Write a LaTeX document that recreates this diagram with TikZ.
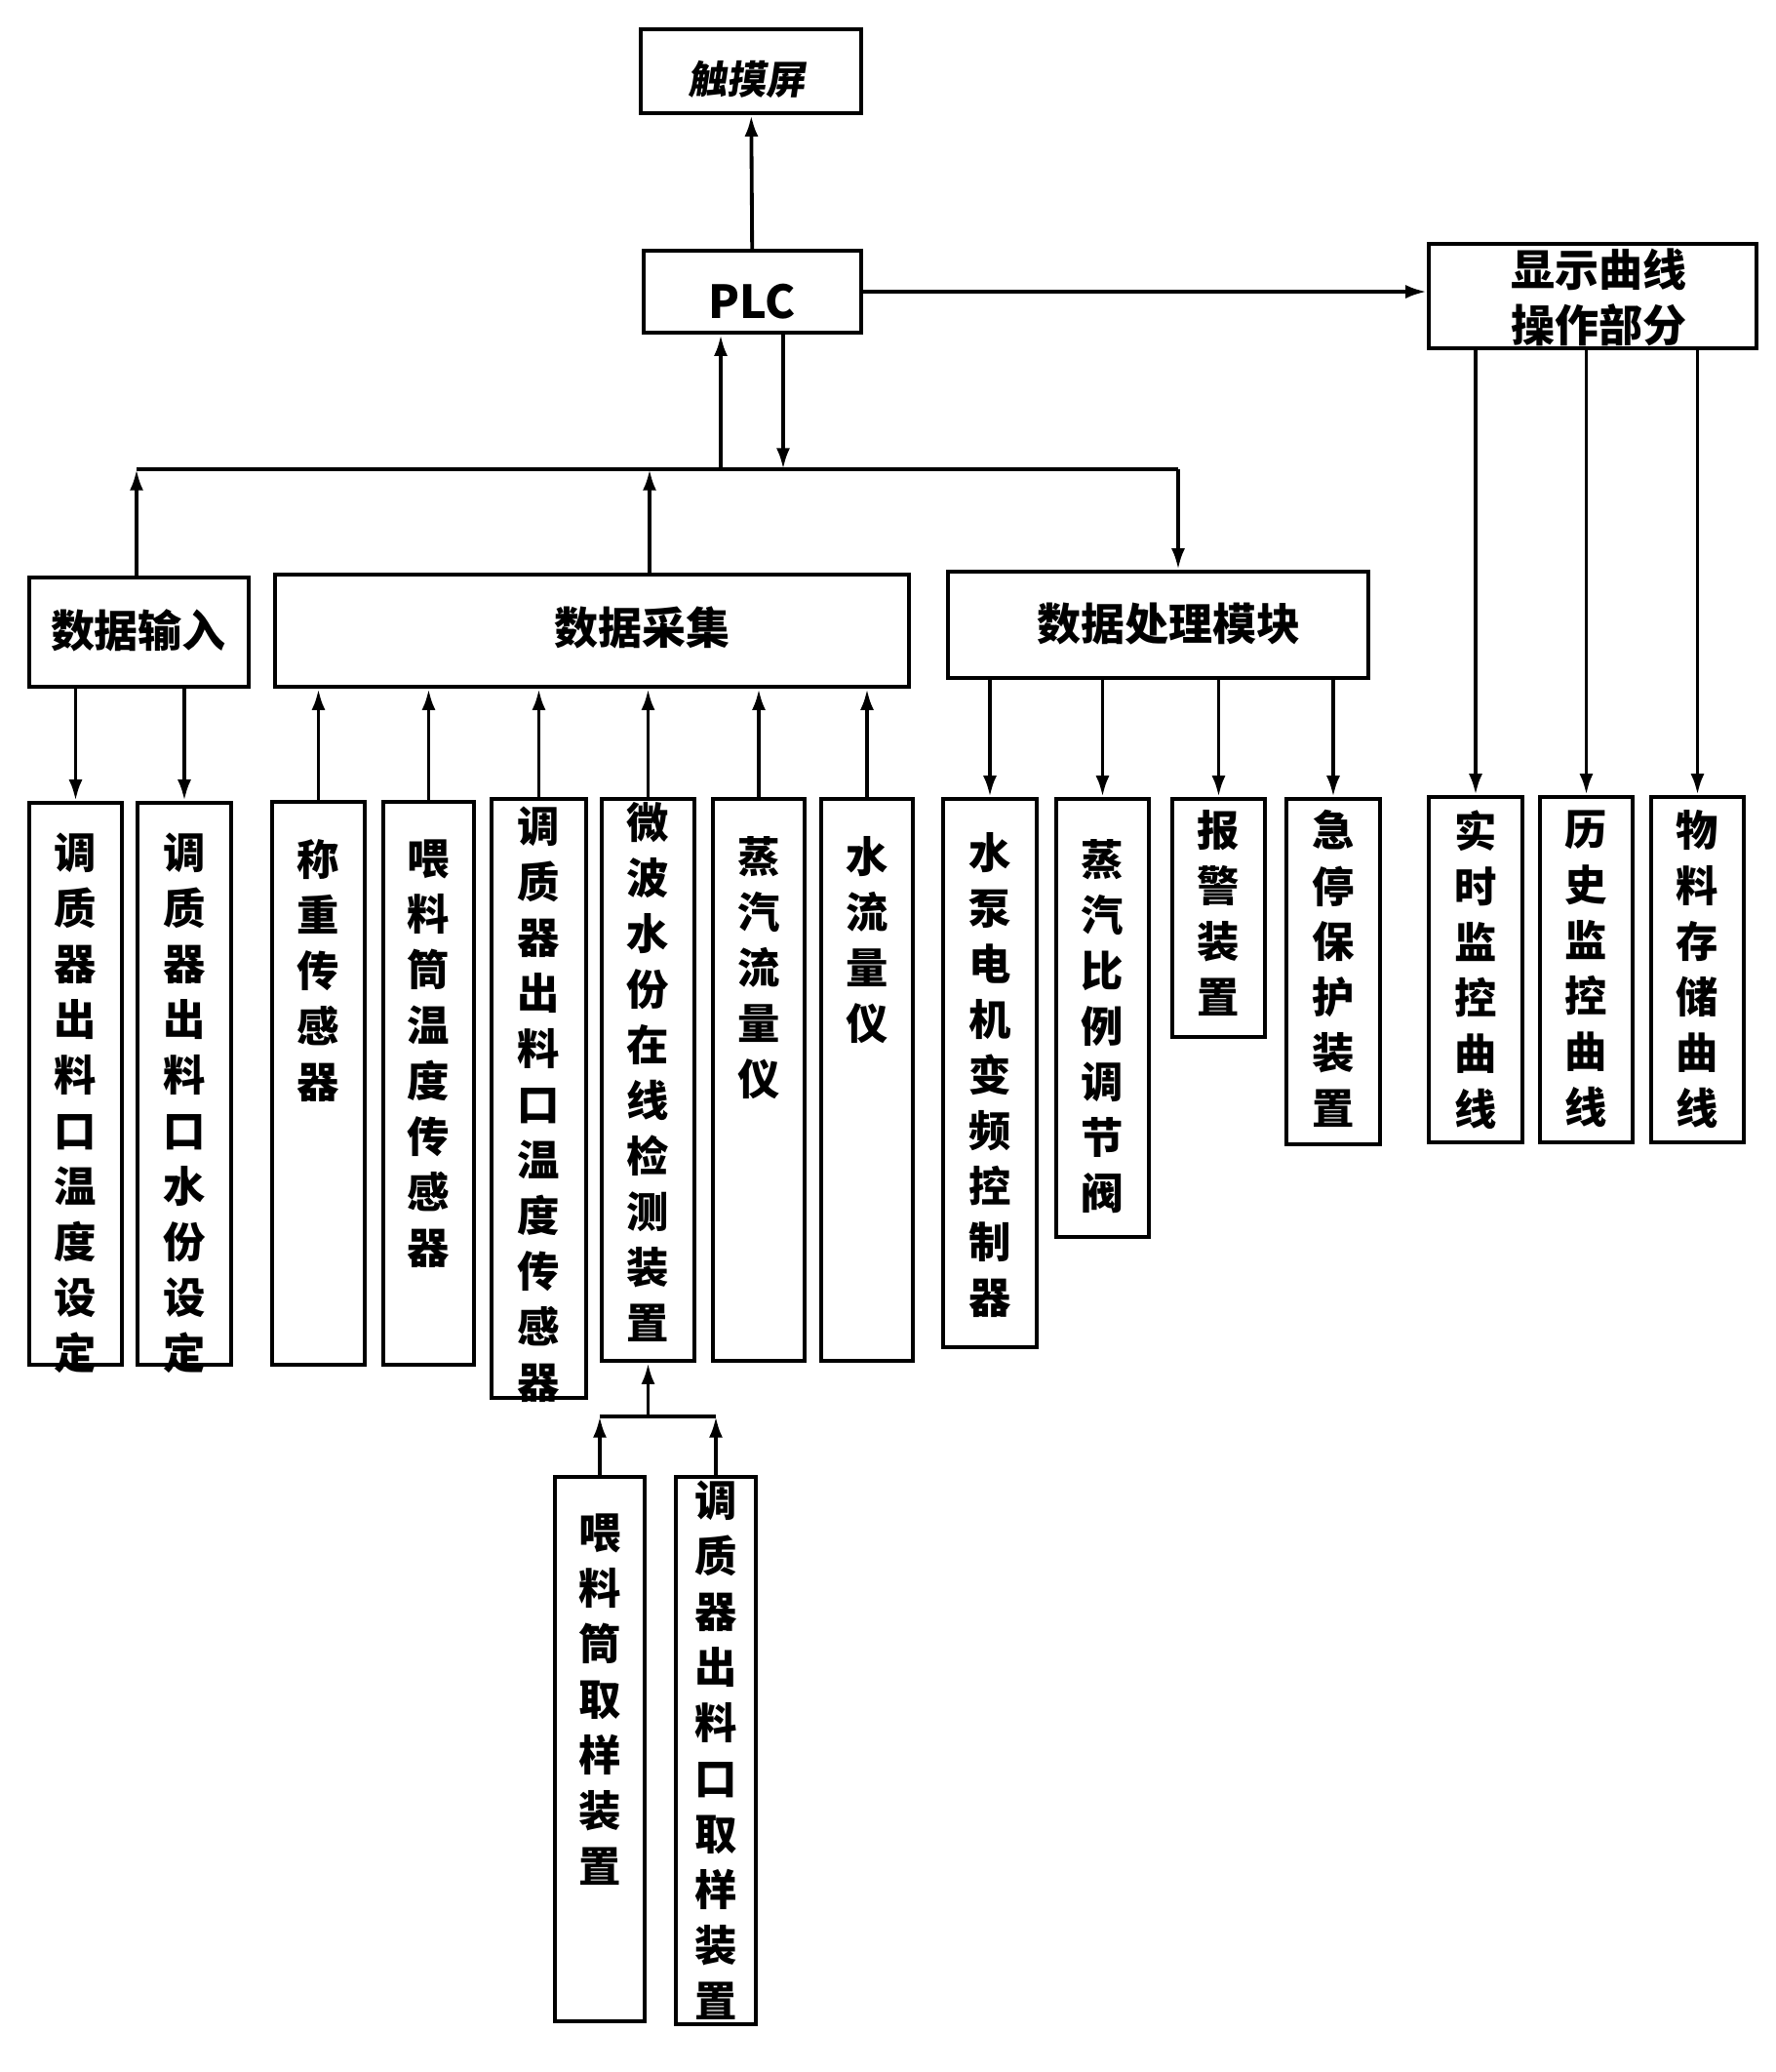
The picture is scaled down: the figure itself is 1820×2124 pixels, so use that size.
\documentclass[tikz,border=0pt]{standalone}
\usepackage{fontspec}
\setmainfont{Noto Sans CJK SC}
\newfontfamily\slcjk{Noto Sans CJK SC}[FakeSlant=0.15]
\usetikzlibrary{arrows.meta}
\tikzset{
  box/.style={draw, line width=1.3pt, inner sep=0pt},
  conn/.style={line width=1.15pt},
  arr/.style={conn, -{Latex[length=6.5pt,width=4.2pt]}},
  vlab/.style={anchor=north, inner sep=0pt, align=center, font=\fontsize{13}{17.1}\selectfont\bfseries},
  hlab/.style={inner sep=0pt, align=center, font=\fontsize{13.5}{16.2}\selectfont\bfseries},
}
\newcommand\bx[5]{\node[box, minimum width={(#4-#2)*0.3pt}, minimum height={(#5-#3)*0.3pt}] (#1) at ({(#2+#4)/2},{(#3+#5)/2}) {};}
\begin{document}
\begin{tikzpicture}[x=0.3pt,y=-0.3pt]
\useasboundingbox (0,0) rectangle (1820,2124);
% top boxes
\bx{touch}{657}{30}{883}{116}
\node[hlab, font=\fontsize{12}{14}\selectfont\slcjk\bfseries] (touchT) at (765,81) {触摸屏};
\bx{plc}{660}{257}{883}{341}
\node[hlab, font=\fontsize{14}{16}\selectfont\bfseries] (plcT) at (771,309) {PLC};
\bx{disp}{1465}{250}{1801}{357}
\node[hlab] (dispT) at (1639,305) {显示曲线\\[0.9pt]操作部分};
% middle boxes
\bx{inp}{30}{592}{255}{704}
\node[hlab] (inpT) at (142,646) {数据输入};
\bx{acq}{282}{589}{932}{704}
\node[hlab] (acqT) at (658,643) {数据采集};
\bx{proc}{972}{586}{1403}{695}
\node[hlab] (procT) at (1198,639) {数据处理模块};
% bottom row
\bx{b1}{30}{823}{125}{1399}
\node[vlab] (t1) at (77.5,853) {调\\质\\器\\出\\料\\口\\温\\度\\设\\定};
\bx{b2}{141}{823}{237}{1399}
\node[vlab] (t2) at (189,853) {调\\质\\器\\出\\料\\口\\水\\份\\设\\定};
\bx{b3}{279}{822}{374}{1399}
\node[vlab] (t3) at (326.5,860) {称\\重\\传\\感\\器};
\bx{b4}{393}{822}{486}{1399}
\node[vlab] (t4) at (439.5,860) {喂\\料\\筒\\温\\度\\传\\感\\器};
\bx{b5}{504}{819}{601}{1433}
\node[vlab] (t5) at (552.5,826) {调\\质\\器\\出\\料\\口\\温\\度\\传\\感\\器};
\bx{b6}{617}{819}{712}{1395}
\node[vlab] (t6) at (664.5,822) {微\\波\\水\\份\\在\\线\\检\\测\\装\\置};
\bx{b7}{731}{819}{825}{1395}
\node[vlab] (t7) at (778,857) {蒸\\汽\\流\\量\\仪};
\bx{b8}{842}{819}{936}{1395}
\node[vlab] (t8) at (889,857) {水\\流\\量\\仪};
\bx{b9}{967}{819}{1063}{1381}
\node[vlab] (t9) at (1015,853) {水\\泵\\电\\机\\变\\频\\控\\制\\器};
\bx{b10}{1083}{819}{1178}{1268}
\node[vlab] (t10) at (1130.5,860) {蒸\\汽\\比\\例\\调\\节\\阀};
\bx{b11}{1202}{819}{1297}{1063}
\node[vlab] (t11) at (1249.5,830) {报\\警\\装\\置};
\bx{b12}{1319}{819}{1415}{1173}
\node[vlab] (t12) at (1367,830) {急\\停\\保\\护\\装\\置};
\bx{b13}{1465}{817}{1561}{1171}
\node[vlab] (t13) at (1513,830) {实\\时\\监\\控\\曲\\线};
\bx{b14}{1579}{817}{1674}{1171}
\node[vlab] (t14) at (1626.5,830) {历\\史\\监\\控\\曲\\线};
\bx{b15}{1693}{817}{1788}{1171}
\node[vlab] (t15) at (1740.5,830) {物\\料\\存\\储\\曲\\线};
% sampling boxes
\bx{b16}{569}{1514}{661}{2072}
\node[vlab] (t16) at (615,1551) {喂\\料\\筒\\取\\样\\装\\置};
\bx{b17}{693}{1514}{775}{2075}
\node[vlab] (t17) at (734,1517) {调\\质\\器\\出\\料\\口\\取\\样\\装\\置};
% connectors
\draw[arr] (plc) -- (touch);
\draw[arr] (plc.east) -- (plc.east -| disp.west);
\coordinate (busL) at (140,481);
\coordinate (busR) at (1208,481);
\coordinate (bUp) at (739,481);
\coordinate (bDn) at (803,481);
\coordinate (bAcq) at (666,481);
\draw[conn] (busL) -- (busR);
\draw[arr] (bUp) -- (plc.south -| bUp);
\draw[arr] (plc.south -| bDn) -- (bDn);
\draw[arr] (inp.north -| busL) -- (busL);
\draw[arr] (acq.north -| bAcq) -- (bAcq);
\draw[arr] (busR) -- (proc.north -| busR);
\foreach \b in {b1,b2} \draw[arr] (inp.south -| \b.north) -- (\b.north);
\foreach \b in {b3,b4,b5,b6,b7,b8} \draw[arr] (\b.north) -- (acq.south -| \b.north);
\foreach \b in {b9,b10,b11,b12} \draw[arr] (proc.south -| \b.north) -- (\b.north);
\foreach \b in {b13,b14,b15} \draw[arr] (disp.south -| \b.north) -- (\b.north);
\coordinate (jn) at (664.5,1452);
\draw[conn] (b16.north |- jn) -- (b17.north |- jn);
\draw[arr] (b16.north) -- (b16.north |- jn);
\draw[arr] (b17.north) -- (b17.north |- jn);
\draw[arr] (jn) -- (b6.south);
\end{tikzpicture}
\end{document}
